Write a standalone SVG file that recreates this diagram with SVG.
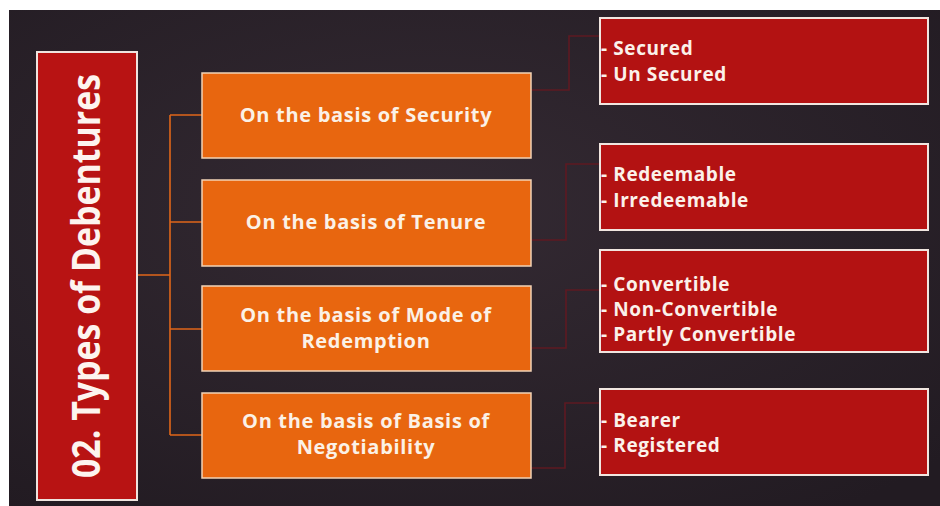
<svg xmlns="http://www.w3.org/2000/svg" width="940" height="506" viewBox="0 0 940 506">
  <defs>
    <radialGradient id="bgGlow" cx="0.45" cy="0.4" r="0.75">
      <stop offset="0" stop-color="#342a33"/>
      <stop offset="1" stop-color="#221b22"/>
    </radialGradient>
    <style>
      .orange { fill: #e8660f; stroke: #f2d3b6; stroke-width: 1.5; }
      .red { fill: #b31212; stroke: #f1e6e0; stroke-width: 2; }
      .title { fill: #b81313; stroke: #efe4df; stroke-width: 2; }
      .branch { fill: none; stroke: #e0661a; stroke-width: 1.6; }
      .leaf { fill: none; stroke: #5e1a22; stroke-width: 1.6; }
      .otext { font-family: "Open Sans", "Liberation Sans", sans-serif; font-weight: 700; font-size: 20px; letter-spacing: 0.7px; fill: #fbf1e6; text-anchor: middle; }
      .rtext { font-family: "Open Sans", "Liberation Sans", sans-serif; font-weight: 700; font-size: 19px; letter-spacing: 0.6px; fill: #fbf1ea; }
      .ttext { font-family: "Open Sans", "Liberation Sans", sans-serif; font-weight: 700; font-size: 40px; fill: #fdf4ef; }
    </style>
  </defs>

  <!-- page and dark slide background -->
  <rect x="0" y="0" width="940" height="506" fill="#ffffff"/>
  <rect x="9" y="10" width="931" height="496" fill="url(#bgGlow)"/>

  <!-- connectors -->
  <g id="connectors">
    <path class="branch" d="M137 275 H170 M170 115 V435 M170 115 H202 M170 222 H202 M170 329 H202 M170 435 H202"/>
    <path class="leaf" d="M531 90 H569 V36 H600"/>
    <path class="leaf" d="M531 240 H566 V164 H600"/>
    <path class="leaf" d="M531 348 H566 V290 H600"/>
    <path class="leaf" d="M531 468 H565 V403 H600"/>
  </g>

  <!-- title -->
  <g id="title">
    <rect class="title" x="37" y="52" width="100" height="448"/>
    <text class="ttext" transform="translate(100 478) rotate(-90)" textLength="404" lengthAdjust="spacingAndGlyphs">02. Types of Debentures</text>
  </g>

  <!-- categories -->
  <g id="security">
    <rect class="orange" x="202" y="73" width="329" height="85"/>
    <text class="otext" x="366" y="122">On the basis of Security</text>
  </g>
  <g id="tenure">
    <rect class="orange" x="202" y="180" width="329" height="86"/>
    <text class="otext" x="366" y="229">On the basis of Tenure</text>
  </g>
  <g id="redemption">
    <rect class="orange" x="202" y="286" width="329" height="85"/>
    <text class="otext" x="366" y="322">On the basis of Mode of</text>
    <text class="otext" x="366" y="348">Redemption</text>
  </g>
  <g id="negotiability">
    <rect class="orange" x="202" y="393" width="329" height="85"/>
    <text class="otext" x="366" y="428">On the basis of Basis of</text>
    <text class="otext" x="366" y="454">Negotiability</text>
  </g>

  <!-- types -->
  <g id="security-types">
    <rect class="red" x="600" y="18" width="328" height="86"/>
    <text class="rtext" x="601" y="55">- Secured</text>
    <text class="rtext" x="601" y="81">- Un Secured</text>
  </g>
  <g id="tenure-types">
    <rect class="red" x="600" y="144" width="328" height="86"/>
    <text class="rtext" x="601" y="181">- Redeemable</text>
    <text class="rtext" x="601" y="207">- Irredeemable</text>
  </g>
  <g id="redemption-types">
    <rect class="red" x="600" y="250" width="328" height="102"/>
    <text class="rtext" x="601" y="291">- Convertible</text>
    <text class="rtext" x="601" y="316">- Non-Convertible</text>
    <text class="rtext" x="601" y="341">- Partly Convertible</text>
  </g>
  <g id="negotiability-types">
    <rect class="red" x="600" y="389" width="328" height="86"/>
    <text class="rtext" x="601" y="427">- Bearer</text>
    <text class="rtext" x="601" y="452">- Registered</text>
  </g>
</svg>
